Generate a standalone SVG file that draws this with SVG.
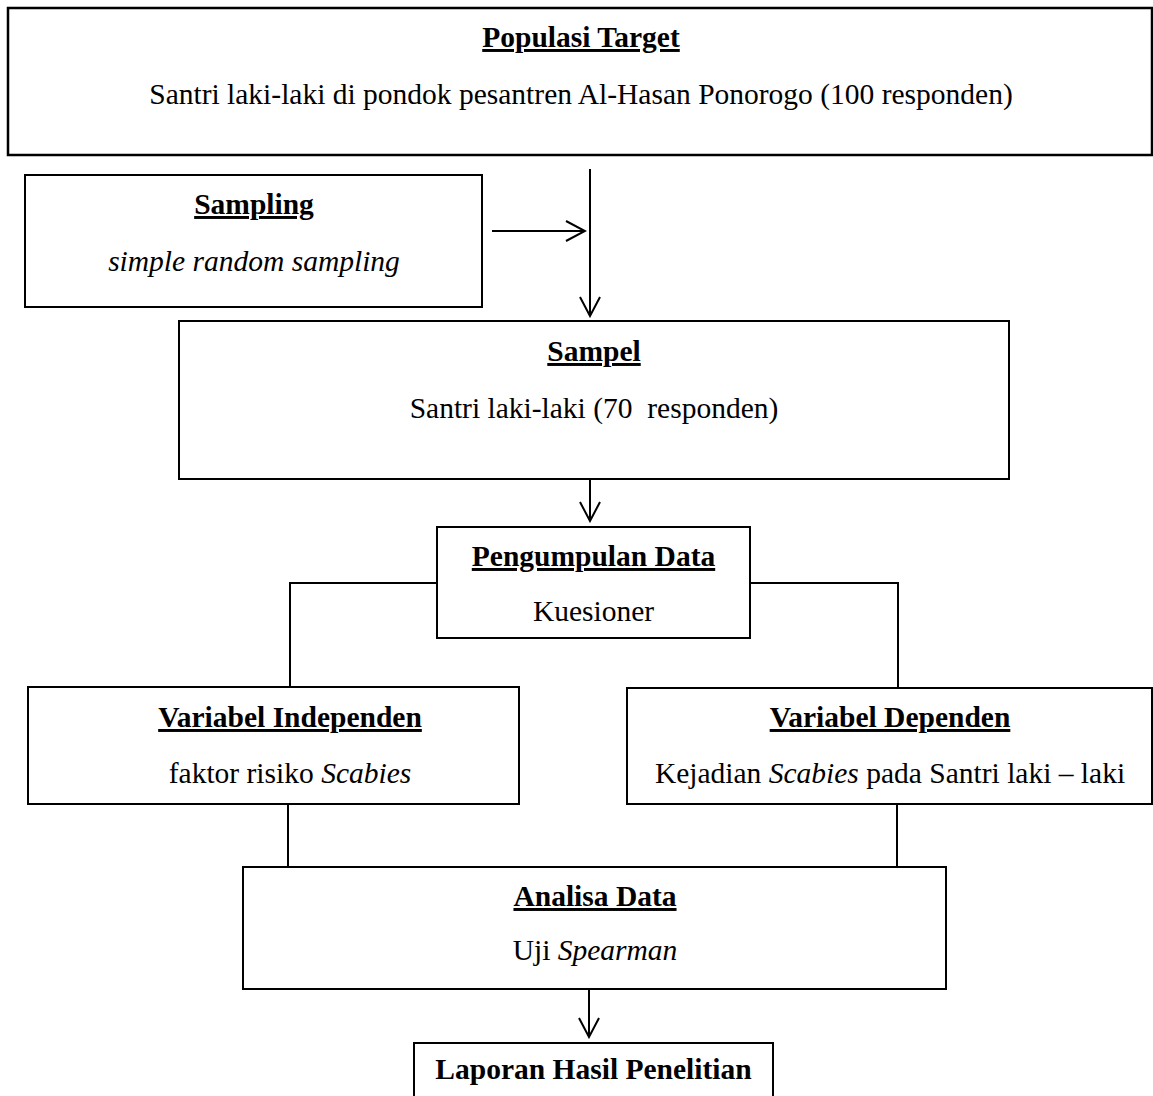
<svg xmlns="http://www.w3.org/2000/svg" width="1153" height="1096" viewBox="0 0 1153 1096">
<style>
  .box { fill: #ffffff; stroke: #000000; stroke-width: 2; }
  .ln { fill: none; stroke: #000000; stroke-width: 2; }
  text { font-family: "Liberation Serif", "Times New Roman", serif; font-size: 29.5px; fill: #000000; text-anchor: middle; }
  .t { font-weight: bold; text-decoration: underline; }
  .b { font-weight: bold; }
  .i { font-style: italic; }
</style>
<defs>
  <marker id="arr" markerUnits="userSpaceOnUse" viewBox="-21 -12 23 24" refX="0" refY="0" markerWidth="23" markerHeight="24" orient="auto">
    <path d="M-19,-10 L0,0 L-19,10" fill="none" stroke="#000000" stroke-width="2"/>
  </marker>
</defs>
<rect width="1153" height="1096" fill="#ffffff"/>

<g id="connectors">
  <line class="ln" x1="590" y1="169" x2="590" y2="316" marker-end="url(#arr)"/>
  <line class="ln" x1="492" y1="231" x2="585" y2="231" marker-end="url(#arr)"/>
  <line class="ln" x1="590" y1="479" x2="590" y2="521" marker-end="url(#arr)"/>
  <polyline class="ln" points="437,583 290,583 290,687"/>
  <polyline class="ln" points="750,583 898,583 898,688"/>
  <line class="ln" x1="288" y1="804" x2="288" y2="867"/>
  <line class="ln" x1="897" y1="804" x2="897" y2="867"/>
  <line class="ln" x1="589" y1="989" x2="589" y2="1037" marker-end="url(#arr)"/>
</g>

<g id="populasi">
  <rect class="box" x="8" y="8" width="1144" height="147" style="stroke-width:2.5"/>
  <text class="t" x="581" y="47">Populasi Target</text>
  <text x="581" y="104">Santri laki-laki di pondok pesantren Al-Hasan Ponorogo (100 responden)</text>
</g>

<g id="sampling">
  <rect class="box" x="25" y="175" width="457" height="132"/>
  <text class="t" x="254" y="214">Sampling</text>
  <text class="i" x="254" y="271">simple random sampling</text>
</g>

<g id="sampel">
  <rect class="box" x="179" y="321" width="830" height="158"/>
  <text class="t" x="594" y="361">Sampel</text>
  <text x="594" y="418" xml:space="preserve">Santri laki-laki (70  responden)</text>
</g>

<g id="pengumpulan">
  <rect class="box" x="437" y="527" width="313" height="111"/>
  <text class="t" x="593.5" y="566">Pengumpulan Data</text>
  <text x="593.5" y="621">Kuesioner</text>
</g>

<g id="independen">
  <rect class="box" x="28" y="687" width="491" height="117"/>
  <text class="t" x="290" y="727">Variabel Independen</text>
  <text x="290" y="783">faktor risiko <tspan class="i">Scabies</tspan></text>
</g>

<g id="dependen">
  <rect class="box" x="627" y="688" width="525" height="116"/>
  <text class="t" x="890" y="727">Variabel Dependen</text>
  <text x="890" y="783">Kejadian <tspan class="i">Scabies</tspan> pada Santri laki – laki</text>
</g>

<g id="analisa">
  <rect class="box" x="243" y="867" width="703" height="122"/>
  <text class="t" x="595" y="906">Analisa Data</text>
  <text x="595" y="960">Uji <tspan class="i">Spearman</tspan></text>
</g>

<g id="laporan">
  <rect class="box" x="414" y="1043" width="359" height="60"/>
  <text class="b" x="593.5" y="1079">Laporan Hasil Penelitian</text>
</g>
</svg>
